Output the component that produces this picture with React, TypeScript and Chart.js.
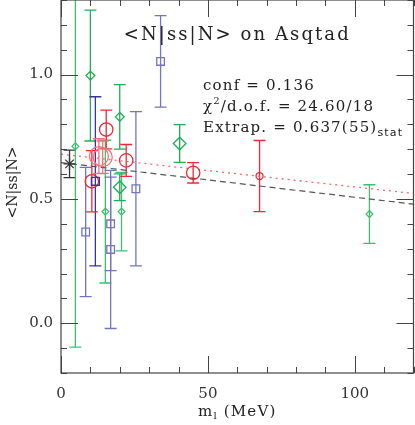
import React, { useEffect, useRef } from 'react';
import { Chart, registerables } from 'chart.js';

Chart.register(...registerables);

// ---------------- data ----------------
const greenSmallX = [4.9, 15.1, 20.6, 105.0];
const greenSmallY = [0.712, 0.449, 0.449, 0.439];
const greenSmallErr = [0.808, 0.287, 0.158, 0.118];

const greenMidX = [10.0, 20.0];
const greenMidY = [0.996, 0.830];
const greenMidErr = [0.263, 0.130];

const greenLargeX = [20.0, 40.4];
const greenLargeY = [0.547, 0.723];
const greenLargeErr = [0.054, 0.076];

const blueDarkX = [11.7];
const blueDarkY = [0.571];
const blueDarkErr = [0.340];

const blueLightX = [8.4, 16.9, 16.9, 25.5, 33.9];
const blueLightY = [0.367, 0.400, 0.297, 0.541, 1.053];
const blueLightErr = [0.260, 0.188, 0.318, 0.310, 0.184];

const redSmallX = [67.6];
const redSmallY = [0.592];
const redSmallErr = [0.143];

const redMidX = [10.5, 15.4, 22.2, 45.0];
const redMidY = [0.571, 0.779, 0.655, 0.605];
const redMidErr = [0.123, 0.078, 0.064, 0.041];

const redBigX = [12.9, 14.2];
const redBigY = [0.672, 0.668];
const redBigErr = [0.070, 0.065];

const extrapX = [2.9];
const extrapY = [0.641];
const extrapErr = [0.055];

const fitX = [0, 120];
const fitDashedY = [0.646, 0.479];
const fitDottedY = [0.680, 0.522];

const xTickValues = [0, 50, 100];
const yTickValues = [0.0, 0.5, 1.0];

const TITLE = '<N|ss|N> on Asqtad';
const CONF = 'conf = 0.136';
const CHI = ['χ', '2', '/d.o.f. = 24.60/18'];
const EXTRAP = ['Extrap. = 0.637(55)', 'stat'];
const XTITLE = ['m', 'l', ' (MeV)'];
const YTITLE = '<N|ss|N>';

// ---------------- helpers ----------------
const SERIF = '"DejaVu Serif", "Liberation Serif", serif';

function pts(xs: number[], ys: number[]) {
  return xs.map((x, i) => ({ x, y: ys[i] }));
}

function pointSeries(
  label: string,
  xs: number[],
  ys: number[],
  errs: number[],
  color: string,
  style: string,
  radius: number
) {
  return {
    type: 'scatter',
    label,
    data: pts(xs, ys),
    errors: errs,
    errColor: color,
    pointStyle: style,
    pointRadius: radius,
    pointBorderWidth: 1.3,
    pointBorderColor: color,
    pointBackgroundColor: 'rgba(255,255,255,0)',
    borderColor: color,
    backgroundColor: 'rgba(255,255,255,0)',
    showLine: false,
    order: 1,
  };
}

const errorBarPlugin = {
  id: 'errorBars',
  beforeDatasetsDraw(chart: any) {
    const { ctx, chartArea: a, scales } = chart;
    const x = scales.x;
    const y = scales.y;
    ctx.save();
    ctx.beginPath();
    ctx.rect(a.left, a.top, a.right - a.left, a.bottom - a.top);
    ctx.clip();
    chart.data.datasets.forEach((ds: any) => {
      if (!ds.errors) return;
      ctx.strokeStyle = ds.errColor;
      ctx.lineWidth = 1.3;
      ds.data.forEach((p: any, j: number) => {
        const e = ds.errors[j];
        const px = x.getPixelForValue(p.x);
        const t = y.getPixelForValue(p.y + e);
        const b = y.getPixelForValue(p.y - e);
        ctx.beginPath();
        ctx.moveTo(px, t);
        ctx.lineTo(px, b);
        ctx.moveTo(px - 6, t);
        ctx.lineTo(px + 6, t);
        ctx.moveTo(px - 6, b);
        ctx.lineTo(px + 6, b);
        ctx.stroke();
      });
    });
    ctx.restore();
  },
};

const framePlugin = {
  id: 'frame',
  afterDraw(chart: any) {
    const { ctx, chartArea: a, scales } = chart;
    const x = scales.x;
    const y = scales.y;
    ctx.save();
    ctx.strokeStyle = '#444';
    ctx.lineWidth = 1.2;
    ctx.strokeRect(a.left, a.top, a.right - a.left, a.bottom - a.top);
    ctx.lineWidth = 1;
    ctx.beginPath();
    for (let v = 0; v <= 120; v += 10) {
      const px = Math.round(x.getPixelForValue(v)) + 0.5;
      const len = v % 50 === 0 ? 17 : 6;
      ctx.moveTo(px, a.bottom);
      ctx.lineTo(px, a.bottom - len);
      ctx.moveTo(px, a.top);
      ctx.lineTo(px, a.top + len);
    }
    for (let i = -2; i <= 13; i++) {
      const py = Math.round(y.getPixelForValue(i / 10)) + 0.5;
      const len = i % 5 === 0 ? 17 : 6;
      ctx.moveTo(a.left, py);
      ctx.lineTo(a.left + len, py);
      ctx.moveTo(a.right, py);
      ctx.lineTo(a.right - len, py);
    }
    ctx.stroke();
    ctx.restore();
  },
};

function drawRuns(ctx: any, x: number, y: number, runs: any[], spacing: number) {
  let cx = x;
  for (const r of runs) {
    ctx.font = r.font;
    ctx.letterSpacing = spacing + 'px';
    ctx.fillText(r.text, cx, y + (r.dy || 0));
    cx += ctx.measureText(r.text).width;
  }
  return cx - x;
}

function runsWidth(ctx: any, runs: any[], spacing: number) {
  let w = 0;
  for (const r of runs) {
    ctx.font = r.font;
    ctx.letterSpacing = spacing + 'px';
    w += ctx.measureText(r.text).width;
  }
  return w;
}

const textPlugin = {
  id: 'texts',
  afterDraw(chart: any) {
    const { ctx, chartArea: a } = chart;
    ctx.save();
    ctx.fillStyle = '#222';
    ctx.textAlign = 'left';
    ctx.textBaseline = 'alphabetic';
    const cx = (a.left + a.right) / 2;

    // title
    ctx.font = '18px ' + SERIF;
    ctx.letterSpacing = '0px';
    const tw = ctx.measureText(TITLE).width;
    const tls = (227 - tw) / TITLE.length;
    ctx.letterSpacing = tls + 'px';
    ctx.fillText(TITLE, cx - 227 / 2, 40);

    // statistics block
    const f15 = '15px ' + SERIF;
    ctx.font = f15;
    ctx.letterSpacing = '0px';
    const cw = ctx.measureText(CONF).width;
    const bls = (112 - cw) / CONF.length;
    drawRuns(ctx, 203, 90, [{ text: CONF, font: f15 }], bls);
    drawRuns(
      ctx,
      203,
      111,
      [
        { text: CHI[0], font: f15 },
        { text: CHI[1], font: '10px ' + SERIF, dy: -7 },
        { text: CHI[2], font: f15 },
      ],
      bls
    );
    drawRuns(
      ctx,
      203,
      131.5,
      [
        { text: EXTRAP[0], font: f15 },
        { text: EXTRAP[1], font: '11px "DejaVu Sans", sans-serif', dy: 4 },
      ],
      bls
    );

    // x axis title
    const xr = [
      { text: XTITLE[0], font: f15 },
      { text: XTITLE[1], font: '10px ' + SERIF, dy: 3 },
      { text: XTITLE[2], font: f15 },
    ];
    const xw = runsWidth(ctx, xr, 1.2);
    drawRuns(ctx, cx - xw / 2, 416, xr, 1.2);

    // y axis title
    ctx.save();
    ctx.translate(17, (a.top + a.bottom) / 2 - 4);
    ctx.rotate(-Math.PI / 2);
    ctx.font = '14px ' + SERIF;
    ctx.letterSpacing = '0px';
    ctx.textAlign = 'center';
    ctx.fillText(YTITLE, 0, 0);
    ctx.restore();

    ctx.restore();
  },
};

// ---------------- component ----------------
export default function App() {
  const ref = useRef<HTMLCanvasElement | null>(null);

  useEffect(() => {
    if (!ref.current) return;
    const green = '#1fae55';
    const greenLight = '#3cc070';
    const blueDark = '#36369a';
    const blueLight = '#7474c0';
    const red = '#ea2a38';
    const redLight = '#f2707a';

    const datasets: any[] = [
      pointSeries('extrap', extrapX, extrapY, extrapErr, '#333333', 'star', 6),
      pointSeries('green small', greenSmallX, greenSmallY, greenSmallErr, greenLight, 'rectRot', 3.4),
      pointSeries('green mid', greenMidX, greenMidY, greenMidErr, green, 'rectRot', 4.4),
      pointSeries('green large', greenLargeX, greenLargeY, greenLargeErr, green, 'rectRot', 6.3),
      pointSeries('blue dark', blueDarkX, blueDarkY, blueDarkErr, blueDark, 'rect', 5.6),
      pointSeries('blue light', blueLightX, blueLightY, blueLightErr, blueLight, 'rect', 5.4),
      pointSeries('red small', redSmallX, redSmallY, redSmallErr, red, 'circle', 3.5),
      pointSeries('red mid', redMidX, redMidY, redMidErr, red, 'circle', 6.7),
      pointSeries('red big', redBigX, redBigY, redBigErr, redLight, 'circle', 9.5),
      {
        type: 'line',
        label: 'fit dashed',
        data: pts(fitX, fitDashedY),
        borderColor: '#555555',
        borderWidth: 1.2,
        borderDash: [6, 4],
        pointRadius: 0,
        fill: false,
        order: 5,
      },
      {
        type: 'line',
        label: 'fit dotted',
        data: pts(fitX, fitDottedY),
        borderColor: '#f06a6a',
        borderWidth: 1.3,
        borderDash: [2, 4],
        pointRadius: 0,
        fill: false,
        order: 6,
      },
    ];

    const tickFont = { family: 'DejaVu Serif', size: 15 };

    const chart = new Chart(ref.current, {
      type: 'scatter',
      data: { datasets },
      options: {
        animation: false,
        responsive: false,
        events: [],
        layout: { autoPadding: false, padding: { left: 0, right: 1.5, top: 0, bottom: 0 } },
        plugins: { legend: { display: false }, tooltip: { enabled: false } },
        scales: {
          x: {
            type: 'linear',
            min: 0,
            max: 120,
            grid: { display: false, drawTicks: false },
            border: { display: false },
            ticks: {
              padding: 12,
              color: '#333',
              font: tickFont,
              maxRotation: 0,
              autoSkip: false,
              callback: (v: any) => String(v),
            },
            afterBuildTicks: (s: any) => {
              s.ticks = xTickValues.map((value) => ({ value }));
            },
            afterFit: (s: any) => {
              s.height = 52;
              s.paddingLeft = 0;
              s.paddingRight = 0;
            },
          },
          y: {
            type: 'linear',
            min: -0.2,
            max: 1.3,
            grid: { display: false, drawTicks: false },
            border: { display: false },
            ticks: {
              padding: 8,
              color: '#333',
              font: tickFont,
              autoSkip: false,
              callback: (v: any) => Number(v).toFixed(1),
            },
            afterBuildTicks: (s: any) => {
              s.ticks = yTickValues.map((value) => ({ value }));
            },
            afterFit: (s: any) => {
              s.width = 61;
              s.paddingTop = 0;
              s.paddingBottom = 0;
            },
          },
        },
      } as any,
      plugins: [errorBarPlugin, framePlugin, textPlugin],
    } as any);

    return () => chart.destroy();
  }, []);

  return (
    <div style={{ position: 'absolute', left: 0, top: 0, width: 415, height: 425, background: '#fff' }}>
      <canvas ref={ref} width={415} height={425} style={{ display: 'block' }} />
    </div>
  );
}
